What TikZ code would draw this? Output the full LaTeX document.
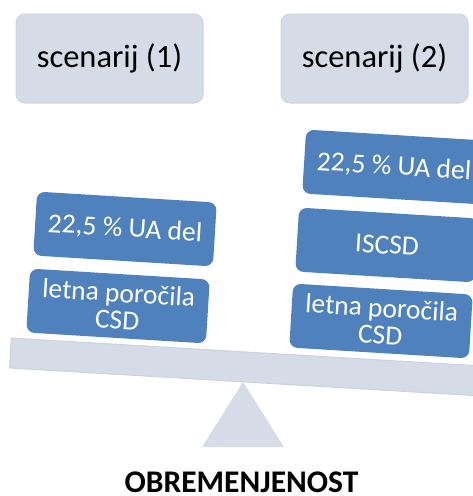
\documentclass[tikz,border=0pt]{standalone}
\usepackage{fontspec}
\setmainfont{Carlito}
\definecolor{lightc}{HTML}{D5DCE8}
\definecolor{lightd}{HTML}{CBD3E2}
\definecolor{bluec}{HTML}{4F81BD}
\begin{document}
\begin{tikzpicture}[x=1pt,y=-1pt,
  scen/.style={fill=lightc, draw=lightd, line width=1pt, rounded corners=9pt, minimum width=187pt, minimum height=89pt, inner sep=0pt, font=\fontsize{32.5}{34}\selectfont, text=black},
  blk/.style={fill=bluec, rounded corners=8pt, minimum width=180pt, minimum height=64pt, inner sep=0pt, text=white, align=center, rotate=-3.5, font=\fontsize{27.5}{27}\selectfont},
  beam/.style={fill=lightc, draw=lightd, line width=1pt, minimum width=472pt, minimum height=30pt, inner sep=0pt, rotate=-3.4},
  title/.style={font=\fontsize{31.5}{33}\selectfont\bfseries, text=black, anchor=base, inner sep=0pt}]
\useasboundingbox (0,0) rectangle (473,496);
\begin{scope}
\clip (0,0) rectangle (473,496);
\node[scen] (s1) at (109.5,58.5) {scenarij (1)};
\node[scen] (s2) at (374.5,58.5) {scenarij (2)};
\node[beam] (beam) at (246,367) {};
\node[blk] (l1) at (125,229) {22,5 \% UA del};
\node[blk] (l2) at (118,306) {letna poročila\\CSD};
\node[blk] (r1) at (394,167) {22,5 \% UA del};
\node[blk] (r2) at (387,245) {ISCSD};
\node[blk] (r3) at (381,321) {letna poročila\\CSD};
\fill[lightc] (243,382) -- (284,447) -- (202,447) -- cycle;
\node[title] (t) at (241.5,492.5) {OBREMENJENOST};
\end{scope}
\end{tikzpicture}
\end{document}
